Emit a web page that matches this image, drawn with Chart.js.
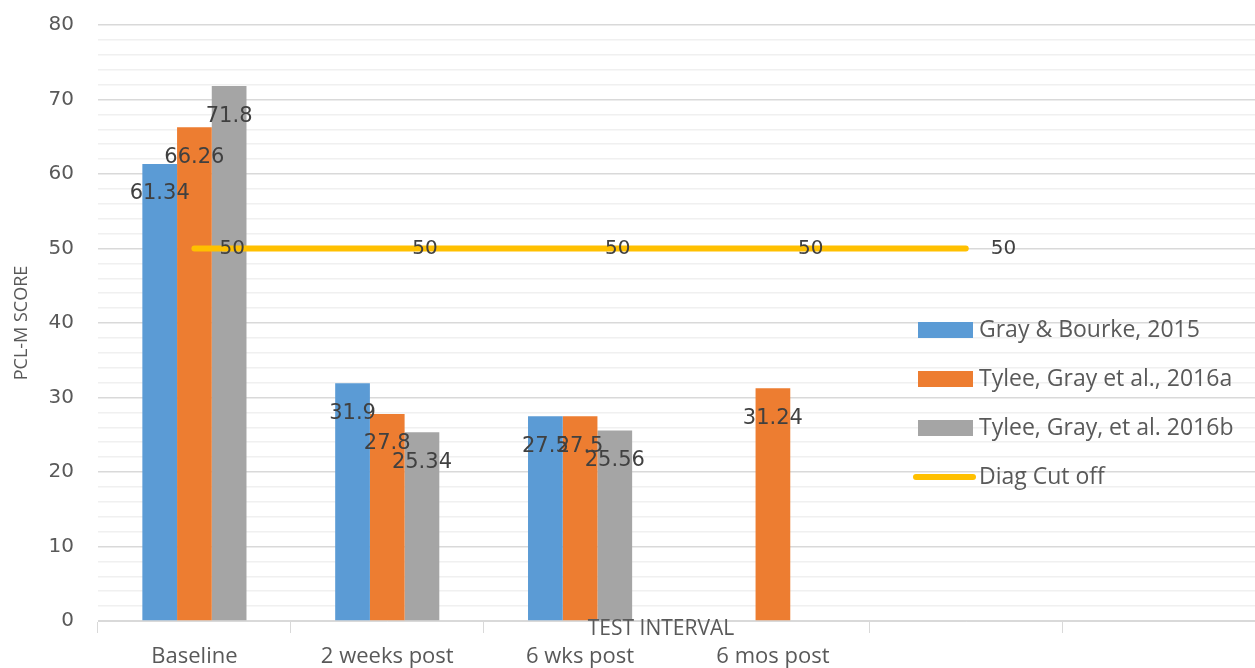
<!DOCTYPE html>
<html>
<head>
<meta charset="utf-8">
<script src="https://cdn.jsdelivr.net/npm/chart.js@4"></script>
<style>
  html, body { margin: 0; padding: 0; background: #fff; }
  #wrap { width: 1255px; height: 668px; position: relative; }
</style>
</head>
<body>
<div id="wrap"><canvas id="chartPcl"></canvas></div>
<script>
// categories (last two slots are empty in the original)
const categories = ['Baseline', '2 weeks post', '6 wks post', '6 mos post', '', ''];

const grayBourke2015 = [61.34, 31.9, 27.5, null, null, null];
const tyleeGray2016a = [66.26, 27.8, 27.5, 31.24, null, null];
const tyleeGray2016b = [71.8, 25.34, 25.56, null, null, null];
const diagCutOff     = [50, 50, 50, 50, 50, null];

const seriesNames = ['Gray & Bourke, 2015', 'Tylee, Gray et al., 2016a', 'Tylee, Gray, et al. 2016b', 'Diag Cut off'];

const yTicks = [0, 10, 20, 30, 40, 50, 60, 70, 80];

const TEXT = '#595959';
const LABEL = '#404040';

// value labels on bars and on the cut-off line
const valueLabels = {
    id: 'valueLabels',
    afterDatasetsDraw(chart) {
        const ctx = chart.ctx;
        ctx.save();
        ctx.fillStyle = LABEL;
        ctx.textBaseline = 'middle';
        chart.data.datasets.forEach(function(ds, i) {
            const meta = chart.getDatasetMeta(i);
            meta.data.forEach(function(el, j) {
                const v = ds.data[j];
                if (v === null || v === undefined) return;
                if (ds.type === 'line') {
                    ctx.font = '20px "DejaVu Sans"';
                    ctx.textAlign = 'left';
                    ctx.fillText(String(v), el.x + 25, el.y);
                } else {
                    ctx.font = '21px "DejaVu Sans"';
                    ctx.textAlign = 'center';
                    ctx.fillText(String(v), el.x, el.y + 30);
                }
            });
        });
        ctx.restore();
    }
};

// legend overlaid on the plot, like the original
const overlayLegend = {
    id: 'overlayLegend',
    afterDraw(chart) {
        const ctx = chart.ctx;
        ctx.save();
        ctx.font = '23px "Open Sans"';
        ctx.textBaseline = 'middle';
        ctx.textAlign = 'left';
        chart.data.datasets.forEach(function(ds, i) {
            const y = 330 + i * 49;
            if (ds.type === 'line') {
                ctx.strokeStyle = ds.borderColor;
                ctx.lineWidth = 6;
                ctx.lineCap = 'round';
                ctx.beginPath();
                ctx.moveTo(916, y);
                ctx.lineTo(973, y);
                ctx.stroke();
            } else {
                ctx.fillStyle = ds.backgroundColor;
                ctx.fillRect(918, y - 8, 55, 16);
            }
            ctx.fillStyle = TEXT;
            ctx.fillText(ds.label, 979, y);
        });
        // x axis title sits between the axis and the category labels
        ctx.font = '21px "Open Sans"';
        ctx.textAlign = 'center';
        ctx.fillStyle = TEXT;
        ctx.fillText('TEST INTERVAL', 661, chart.chartArea.bottom + 8);
        ctx.restore();
    }
};

document.addEventListener('DOMContentLoaded', function() {
    const ctx = document.getElementById('chartPcl').getContext('2d');

    new Chart(ctx, {
        type: 'bar',
        data: {
            labels: categories,
            datasets: [
                { label: seriesNames[0], data: grayBourke2015, backgroundColor: '#5B9BD5', order: 1 },
                { label: seriesNames[1], data: tyleeGray2016a, backgroundColor: '#ED7D31', order: 1 },
                { label: seriesNames[2], data: tyleeGray2016b, backgroundColor: '#A5A5A5', order: 1 },
                {
                    type: 'line',
                    label: seriesNames[3],
                    data: diagCutOff,
                    borderColor: '#FFC000',
                    backgroundColor: '#FFC000',
                    borderWidth: 6,
                    borderCapStyle: 'round',
                    pointRadius: 0,
                    fill: false,
                    order: 0
                }
            ]
        },
        options: {
            responsive: true,
            maintainAspectRatio: false,
            animation: false,
            layout: { padding: { top: 0, right: 0, left: 0, bottom: 0 } },
            datasets: {
                bar: { barPercentage: 1.0, categoryPercentage: 0.54 }
            },
            plugins: {
                legend: { display: false },
                tooltip: { enabled: false }
            },
            scales: {
                x: {
                    grid: {
                        drawOnChartArea: false,
                        color: '#d9d9d9',
                        tickLength: 12
                    },
                    border: { color: '#d9d9d9' },
                    ticks: {
                        color: TEXT,
                        font: { size: 22, family: 'Open Sans' },
                        padding: 11,
                        maxRotation: 0,
                        autoSkip: false
                    },
                    afterFit: function(scale) { scale.height = 47; }
                },
                y: {
                    min: 0,
                    max: 80,
                    border: { display: false },
                    grid: {
                        color: function(c) {
                            return yTicks.indexOf(c.tick.value) >= 0 ? '#d9d9d9' : '#f0f0f0';
                        },
                        lineWidth: 1.5,
                        tickLength: 11,
                        tickColor: 'rgba(0,0,0,0)'
                    },
                    ticks: {
                        stepSize: 2,
                        autoSkip: false,
                        color: TEXT,
                        padding: 13,
                        font: { size: 20, family: 'DejaVu Sans' },
                        callback: function(v) { return yTicks.indexOf(v) >= 0 ? v : ''; }
                    },
                    title: {
                        display: true,
                        text: 'PCL-M SCORE',
                        color: TEXT,
                        font: { size: 18, family: 'Open Sans' },
                        padding: { top: 11, bottom: 0 }
                    },
                    afterFit: function(scale) { scale.width = 98; }
                }
            }
        },
        plugins: [valueLabels, overlayLegend]
    });
});
</script>
</body>
</html>
